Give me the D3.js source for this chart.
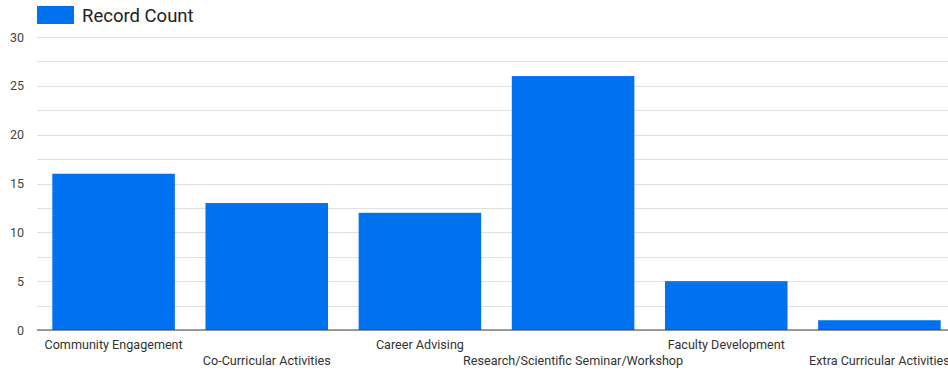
<!DOCTYPE html>
<html>
<head>
<meta charset="utf-8">
<script src="https://cdn.jsdelivr.net/npm/d3@7"></script>
<style>
  html, body { margin: 0; padding: 0; background: #fff; }
  svg { display: block; font-family: Roboto, "Noto Sans", sans-serif; }
</style>
</head>
<body>
<svg id="chart" width="948" height="373"></svg>
<script>
const categories = [
  "Community Engagement",
  "Co-Curricular Activities",
  "Career Advising",
  "Research/Scientific Seminar/Workshop",
  "Faculty Development",
  "Extra Curricular Activities"
];
const recordCount = [16, 13, 12, 26, 5, 1];
const yTicks = [0, 5, 10, 15, 20, 25, 30];
const gridTicks = [0, 2.5, 5, 7.5, 10, 12.5, 15, 17.5, 20, 22.5, 25, 27.5, 30];
const seriesName = "Record Count";

const barColor = "#0072f0";
const svg = d3.select("#chart");

const margin = { left: 37, top: 37, bottom: 43 };
const height = 373;

const x = d3.scaleBand()
  .domain(categories)
  .range([margin.left, 956])
  .paddingInner(0.2)
  .paddingOuter(0.1);

const y = d3.scaleLinear()
  .domain([0, 30])
  .range([height - margin.bottom, margin.top]);

// horizontal gridlines
svg.append("g")
  .selectAll("line")
  .data(gridTicks)
  .join("line")
  .attr("x1", margin.left)
  .attr("x2", 948)
  .attr("y1", d => Math.round(y(d)) + 0.5)
  .attr("y2", d => Math.round(y(d)) + 0.5)
  .attr("stroke", "#e0e0e0")
  .attr("stroke-width", 1);

// bars
svg.append("g")
  .selectAll("rect")
  .data(categories.map((c, i) => ({ c, v: recordCount[i] })))
  .join("rect")
  .attr("x", d => x(d.c))
  .attr("width", x.bandwidth())
  .attr("y", d => y(d.v))
  .attr("height", d => y(0) - y(d.v))
  .attr("fill", barColor);

// baseline
svg.append("line")
  .attr("x1", margin.left)
  .attr("x2", 948)
  .attr("y1", y(0))
  .attr("y2", y(0))
  .attr("stroke", "#444")
  .attr("stroke-width", 1.2);

// y axis labels
const yAxis = d3.axisLeft(y).tickValues(yTicks).tickSize(0).tickPadding(0);
const gy = svg.append("g")
  .attr("transform", `translate(24,0)`)
  .call(yAxis);
gy.select(".domain").remove();
gy.selectAll("text")
  .attr("font-size", 12.5)
  .attr("fill", "#444")
  .attr("font-family", "Roboto, sans-serif");

// x axis labels, staggered in two rows
const xAxis = d3.axisBottom(x).tickSize(0).tickPadding(0);
const gx = svg.append("g")
  .attr("transform", `translate(0,${y(0)})`)
  .call(xAxis);
gx.select(".domain").remove();
gx.selectAll("text")
  .attr("font-size", 12.6)
  .attr("fill", "#333")
  .attr("font-family", "Roboto, sans-serif")
  .attr("dy", null)
  .attr("y", (d, i) => i % 2 === 0 ? 19 : 35);

// legend
const legend = svg.append("g");
legend.append("rect")
  .attr("x", 37).attr("y", 6)
  .attr("width", 37).attr("height", 18)
  .attr("fill", barColor);
legend.append("text")
  .attr("x", 82).attr("y", 22)
  .attr("font-size", 18.5)
  .attr("fill", "#222")
  .text(seriesName);
</script>
</body>
</html>
